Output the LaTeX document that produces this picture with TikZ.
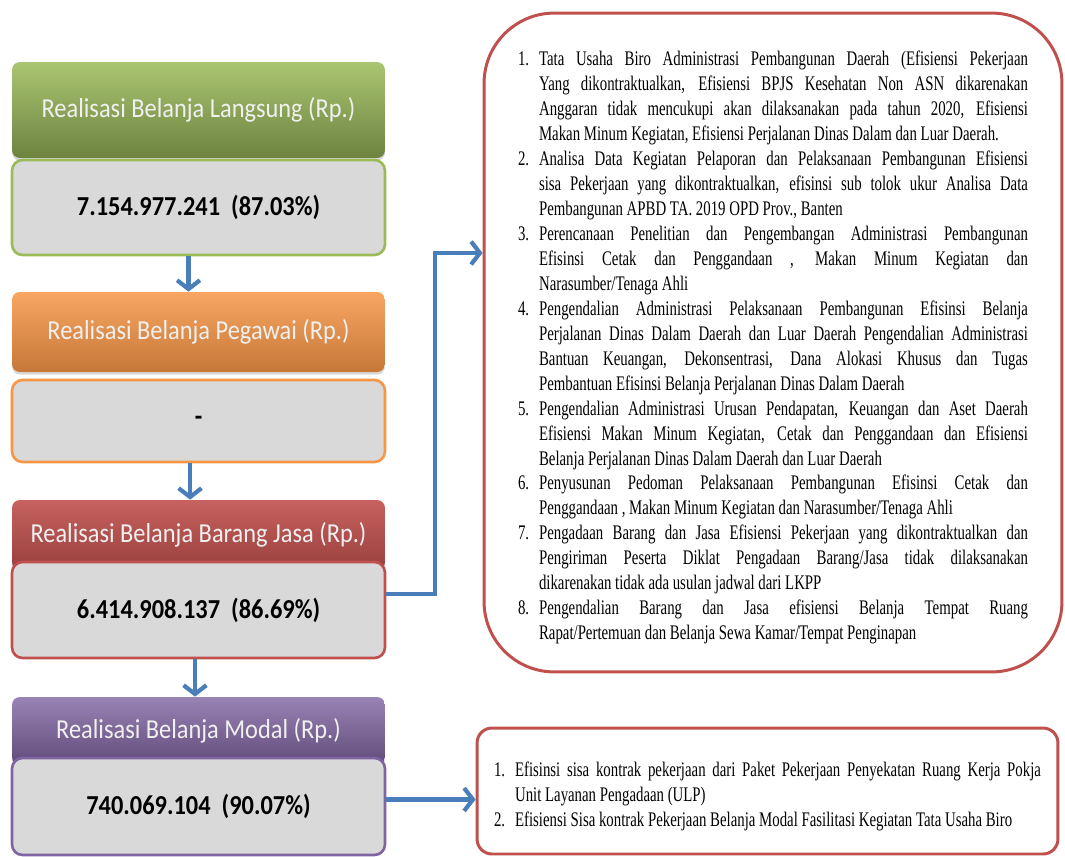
\documentclass[tikz,border=0pt]{standalone}
\usepackage{fontspec}
\setmainfont{Liberation Serif}
\newfontfamily\slidefont[FakeStretch=0.89]{Carlito}
\newfontfamily\notefont[FakeStretch=0.715]{Liberation Serif}
\usetikzlibrary{arrows.meta,shadows}
\definecolor{lgreen}{HTML}{9BBB59}
\definecolor{lorange}{HTML}{F79646}
\definecolor{lred}{HTML}{C0504D}
\definecolor{lpurple}{HTML}{8064A2}
\definecolor{lgray}{HTML}{D9D9D9}
\definecolor{lblue}{HTML}{4A7EBB}
\newcommand{\efitem}[2]{\par\noindent\hangindent=0.42cm\hangafter=1%
  \makebox[0.42cm][l]{#1}#2\par}

\begin{document}
\begin{tikzpicture}[x=0.02cm, y=-0.02cm,
    hdr/.style={rounded corners=4.5pt, minimum width=7.46cm, text=white!94!black,
      drop shadow={opacity=0.3, shadow xshift=0pt, shadow yshift=-1.5pt},
      font=\slidefont\fontsize{15.6}{18}\selectfont},
    val/.style={draw, line width=1.5pt, rounded corners=6pt, fill=lgray,
      minimum width=7.46cm, font=\slidefont\bfseries\fontsize{15.6}{18}\selectfont},
    note/.style={draw=lred, line width=1.7pt, fill=white, align=justify,
      font=\notefont\fontsize{11.8}{14.2}\selectfont},
    flow/.style={draw=lblue, line width=2.4pt, -{Straight Barb[length=5pt,width=13pt]}}]
  \useasboundingbox (0,0) rectangle (1065,856);
  % langsung
  \node[hdr, minimum height=1.92cm, top color=lgreen!85!white, bottom color=lgreen!70!black]
    (h1) at (198.5,110) {Realisasi Belanja Langsung (Rp.)};
  \node[val, draw=lgreen, minimum height=1.9cm] (v1) at (198.5,207.5)
    {7.154.977.241~ (87.03\%)};
  % pegawai
  \node[hdr, minimum height=1.6cm, top color=lorange!85!white, bottom color=lorange!80!black]
    (h2) at (198.5,332) {Realisasi Belanja Pegawai (Rp.)};
  \node[val, draw=lorange, minimum height=1.64cm] (v2) at (198.5,421) {-};
  % barang jasa
  \node[hdr, minimum height=1.4cm, top color=lred!90!white, bottom color=lred!80!black]
    (h3) at (198.5,535) {Realisasi Belanja Barang Jasa (Rp.)};
  \node[val, draw=lred, minimum height=1.92cm] (v3) at (198.5,610)
    {6.414.908.137~ (86.69\%)};
  % modal
  \node[hdr, minimum height=1.36cm, top color=lpurple!80!white, bottom color=lpurple!75!black]
    (h4) at (198.5,731) {Realisasi Belanja Modal (Rp.)};
  \node[val, draw=lpurple, minimum height=1.94cm] (v4) at (198.5,806.5)
    {740.069.104~ (90.07\%)};
  % efisiensi barang jasa
  \node[note, rounded corners=40pt, minimum width=11.56cm, minimum height=13.18cm,
    text width=10.2cm] (note1) at (773,342.5) {\hyphenpenalty=10000\tolerance=10000\hbadness=10000
    \efitem{1.}{Tata Usaha Biro Administrasi Pembangunan Daerah (Efisiensi Pekerjaan\linebreak
      Yang dikontraktualkan, Efisiensi BPJS Kesehatan Non ASN dikarenakan\linebreak
      Anggaran tidak mencukupi akan dilaksanakan pada tahun 2020, Efisiensi\linebreak
      Makan Minum Kegiatan, Efisiensi Perjalanan Dinas Dalam dan Luar Daerah.}
    \efitem{2.}{Analisa Data Kegiatan Pelaporan dan Pelaksanaan Pembangunan Efisiensi\linebreak
      sisa Pekerjaan yang dikontraktualkan, efisinsi sub tolok ukur Analisa Data\linebreak
      Pembangunan APBD TA. 2019 OPD Prov., Banten}
    \efitem{3.}{Perencanaan Penelitian dan Pengembangan Administrasi Pembangunan\linebreak
      Efisinsi Cetak dan Penggandaan , Makan Minum Kegiatan dan\linebreak
      Narasumber/Tenaga Ahli}
    \efitem{4.}{Pengendalian Administrasi Pelaksanaan Pembangunan Efisinsi Belanja\linebreak
      Perjalanan Dinas Dalam Daerah dan Luar Daerah Pengendalian Administrasi\linebreak
      Bantuan Keuangan, Dekonsentrasi, Dana Alokasi Khusus dan Tugas\linebreak
      Pembantuan Efisinsi Belanja Perjalanan Dinas Dalam Daerah}
    \efitem{5.}{Pengendalian Administrasi Urusan Pendapatan, Keuangan dan Aset Daerah\linebreak
      Efisiensi Makan Minum Kegiatan, Cetak dan Penggandaan dan Efisiensi\linebreak
      Belanja Perjalanan Dinas Dalam Daerah dan Luar Daerah}
    \efitem{6.}{Penyusunan Pedoman Pelaksanaan Pembangunan Efisinsi Cetak dan\linebreak
      Penggandaan , Makan Minum Kegiatan dan Narasumber/Tenaga Ahli}
    \efitem{7.}{Pengadaan Barang dan Jasa Efisiensi Pekerjaan yang dikontraktualkan dan\linebreak
      Pengiriman Peserta Diklat Pengadaan Barang/Jasa tidak dilaksanakan\linebreak
      dikarenakan tidak ada usulan jadwal dari LKPP}
    \efitem{8.}{Pengendalian Barang dan Jasa efisiensi Belanja Tempat Ruang\linebreak
      Rapat/Pertemuan dan Belanja Sewa Kamar/Tempat Penginapan}};
  % efisiensi modal
  \node[note, rounded corners=8.5pt, minimum width=11.62cm, minimum height=2.52cm,
    text width=10.94cm] (note2) at (767.5,791) {\hyphenpenalty=10000\tolerance=10000\hbadness=10000
    \efitem{1.}{Efisinsi sisa kontrak pekerjaan dari Paket Pekerjaan Penyekatan Ruang Kerja Pokja\linebreak
      Unit Layanan Pengadaan (ULP)}
    \efitem{2.}{Efisiensi Sisa kontrak Pekerjaan Belanja Modal Fasilitasi Kegiatan Tata Usaha Biro}};
  % arrows
  \draw[flow] ([xshift=-5.7pt]v1.south) -- ([xshift=-5.7pt]h2.north);
  \draw[flow] ([xshift=-4.8pt]v2.south) -- ([xshift=-4.8pt]h3.north);
  \draw[flow] ([xshift=-2pt]v3.south) -- ([xshift=-2pt]h4.north);
  \coordinate (out3) at ([yshift=9pt]v3.east);
  \coordinate (bend) at (435,253);
  \draw[flow] (out3) -| (bend) -- (bend -| note1.west);
  \coordinate (out4) at ([yshift=4pt]v4.east);
  \draw[flow] (out4) -- (out4 -| note2.west);
\end{tikzpicture}
\end{document}
